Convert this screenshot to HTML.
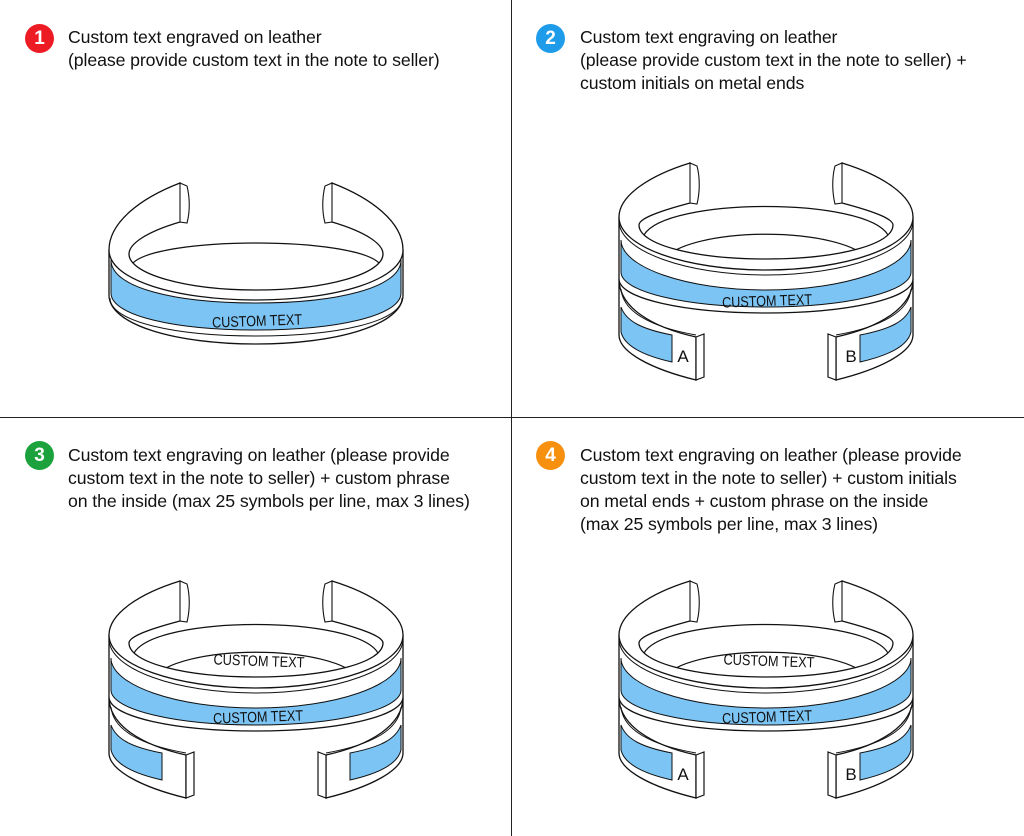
<!DOCTYPE html>
<html><head><meta charset="utf-8"><style>
body{margin:0;background:#fff;width:1024px;height:836px;position:relative;overflow:hidden;font-family:"Liberation Sans",sans-serif}
.t{position:absolute;font-size:17.7px;line-height:23px;color:#111;white-space:nowrap;letter-spacing:-0.1px}
.b{position:absolute;width:29px;height:29px;border-radius:50%;color:#fff;font-weight:bold;font-size:19px;line-height:29px;text-align:center}
svg{position:absolute;left:0;top:0}
</style></head><body>
<svg width="1024" height="836" viewBox="0 0 1024 836">
<defs>
<g id="ring2">
 <path d="M-122,18 C-100,-20 100,-20 122,18" fill="none" stroke="#111" stroke-width="1.2"/>
 <path d="M-105,45 C-80,8 80,8 105,45" fill="none" stroke="#111" stroke-width="1.2"/>
 <g id="lowL">
  <path d="M-147,62 C-147,90 -115,110 -70,120 L-70,163 C-115,152 -147,135 -147,118 Z" fill="#fff" stroke="#111" stroke-width="1.3"/>
  <path d="M-145,72 C-143,95 -115,110 -70,118" fill="none" stroke="#111" stroke-width="1"/>
  <path d="M-145,90 C-140,104 -125,112 -94,118 L-94,145 C-125,138 -142,128 -145,115 Z" fill="#7cc4f4" stroke="#111" stroke-width="1"/>
  <path d="M-70,120 L-62,117 L-62,160 L-70,163 Z" fill="#fff" stroke="#111" stroke-width="1.2"/>
 </g>
 <use href="#lowL" transform="scale(-1,1)"/>
 <path d="M-147,0 L-147,62 C-147,82 -80,96 0,96 C80,96 147,82 147,62 L147,0 C147,30 80,53 0,53 C-80,53 -147,30 -147,0 Z" fill="#fff" stroke="none"/>
 <path d="M-147,0 L-147,62 C-147,82 -80,96 0,96 C80,96 147,82 147,62 L147,0" fill="none" stroke="#111" stroke-width="1.3"/>
 <path d="M-145,23 C-145,50 -80,73 0,73 C80,73 145,50 145,23 L145,55 C145,75 80,90 0,90 C-80,90 -145,75 -145,55 Z" fill="#7cc4f4" stroke="#111" stroke-width="1"/>
 <path d="M-76,-54 C-115,-42 -147,-22 -147,0 C-147,30 -80,53 0,53 C80,53 147,30 147,0 C147,-22 115,-42 76,-54 C72,-40 72,-25 76,-14 C110,-5 127,2 127,8 C127,28 70,42 0,42 C-70,42 -127,28 -127,8 C-127,2 -110,-5 -76,-14 C-72,-25 -72,-40 -76,-54 Z" fill="#fff" stroke="#111" stroke-width="1.3"/>
 <path d="M-147,4 C-147,34 -80,58 0,58 C80,58 147,34 147,4" fill="none" stroke="#111" stroke-width="1"/>
 <path d="M-76,-54 L-69,-51 C-66,-40 -66,-25 -69,-13 L-76,-14 Z M76,-54 L69,-51 C66,-40 66,-25 69,-13 L76,-14 Z" fill="#fff" stroke="#111" stroke-width="1.1"/>
</g>
<g id="ring1">
 <path d="M-124,14 C-100,-14 100,-14 124,14" fill="none" stroke="#111" stroke-width="1.2"/>
 <path d="M-147,0 L-147,45 C-147,75 -80,94 0,94 C80,94 147,75 147,45 L147,0 C147,30 80,50 0,50 C-80,50 -147,30 -147,0 Z" fill="#fff" stroke="none"/>
 <path d="M-147,0 L-147,45 C-147,75 -80,94 0,94 C80,94 147,75 147,45 L147,0" fill="none" stroke="#111" stroke-width="1.3"/>
 <path d="M-145,10 C-145,38 -80,53 0,53 C80,53 145,38 145,10 L145,43 C145,66 80,80 0,80 C-80,80 -145,66 -145,43 Z" fill="#7cc4f4" stroke="#111" stroke-width="1"/>
 <path d="M-146,48 C-146,72 -80,86 0,86 C80,86 146,72 146,48" fill="none" stroke="#111" stroke-width="1"/>
 <path d="M-76,-67 C-115,-52 -147,-28 -147,0 C-147,30 -80,50 0,50 C80,50 147,30 147,0 C147,-28 115,-52 76,-67 C72,-52 72,-38 76,-28 C110,-18 127,-6 127,4 C127,24 70,40 0,40 C-70,40 -127,24 -127,4 C-127,-6 -110,-18 -76,-28 C-72,-38 -72,-52 -76,-67 Z" fill="#fff" stroke="#111" stroke-width="1.3"/>
 <path d="M-76,-67 L-69,-64 C-66,-52 -66,-38 -69,-27 L-76,-28 Z M76,-67 L69,-64 C66,-52 66,-38 69,-27 L76,-28 Z" fill="#fff" stroke="#111" stroke-width="1.1"/>
</g>
</defs>
<line x1="511.5" y1="0" x2="511.5" y2="836" stroke="#222" stroke-width="1"/>
<line x1="0" y1="417.5" x2="1024" y2="417.5" stroke="#222" stroke-width="1"/>

<use href="#ring1" transform="translate(256,250)"/>
<text x="257" y="326" font-size="15" text-anchor="middle" textLength="90" lengthAdjust="spacingAndGlyphs" transform="rotate(-2 257 320)" fill="#111">CUSTOM TEXT</text>

<use href="#ring2" transform="translate(766,217)"/>
<text x="767" y="306" font-size="15" text-anchor="middle" textLength="90" lengthAdjust="spacingAndGlyphs" transform="rotate(-2 767 300)" fill="#111">CUSTOM TEXT</text>
<text x="683" y="362" font-size="17" text-anchor="middle" fill="#111">A</text>
<text x="851" y="362" font-size="17" text-anchor="middle" fill="#111">B</text>

<use href="#ring2" transform="translate(256,635)"/>
<text x="259" y="666" font-size="15" text-anchor="middle" textLength="91" lengthAdjust="spacingAndGlyphs" transform="rotate(2 259 660)" fill="#111">CUSTOM TEXT</text>
<text x="258" y="722" font-size="15" text-anchor="middle" textLength="90" lengthAdjust="spacingAndGlyphs" transform="rotate(-2 258 716)" fill="#111">CUSTOM TEXT</text>

<use href="#ring2" transform="translate(766,635)"/>
<text x="769" y="666" font-size="15" text-anchor="middle" textLength="91" lengthAdjust="spacingAndGlyphs" transform="rotate(2 769 660)" fill="#111">CUSTOM TEXT</text>
<text x="767" y="722" font-size="15" text-anchor="middle" textLength="90" lengthAdjust="spacingAndGlyphs" transform="rotate(-2 767 716)" fill="#111">CUSTOM TEXT</text>
<text x="683" y="780" font-size="17" text-anchor="middle" fill="#111">A</text>
<text x="851" y="780" font-size="17" text-anchor="middle" fill="#111">B</text>
</svg>

<div class="b" style="left:25px;top:24px;background:#ed1c24">1</div>
<div class="t" style="left:68px;top:26px">Custom text engraved on leather<br>(please provide custom text in the note to seller)</div>
<div class="b" style="left:536px;top:24px;background:#1f9ce9">2</div>
<div class="t" style="left:580px;top:26px">Custom text engraving on leather<br>(please provide custom text in the note to seller) +<br>custom initials on metal ends</div>
<div class="b" style="left:25px;top:441px;background:#1ba23c">3</div>
<div class="t" style="left:68px;top:444px">Custom text engraving on leather (please provide<br>custom text in the note to seller) + custom phrase<br>on the inside (max 25 symbols per line, max 3 lines)</div>
<div class="b" style="left:536px;top:441px;background:#f7900f">4</div>
<div class="t" style="left:580px;top:444px">Custom text engraving on leather (please provide<br>custom text in the note to seller) + custom initials<br>on metal ends + custom phrase on the inside<br>(max 25 symbols per line, max 3 lines)</div>
</body></html>
